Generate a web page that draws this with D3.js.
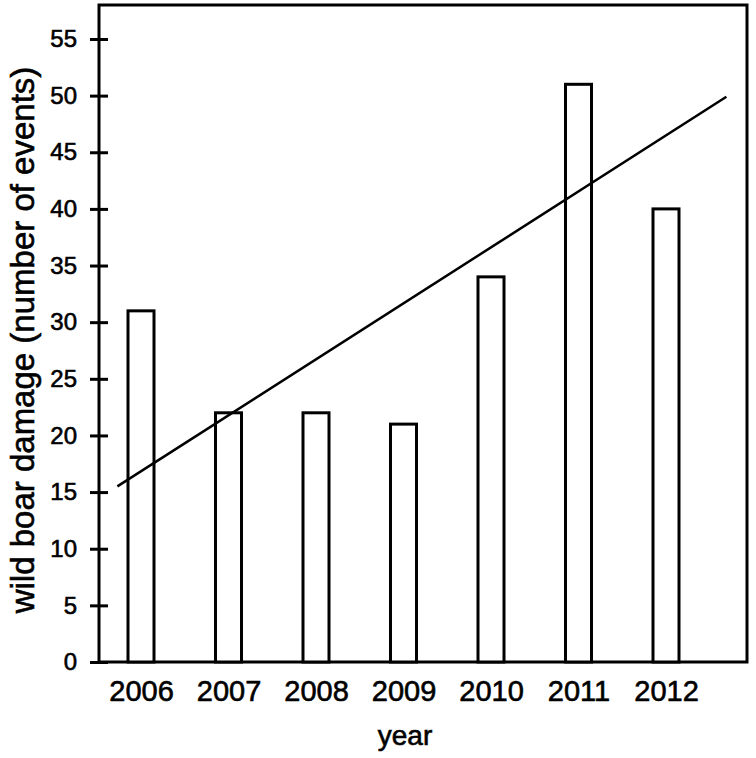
<!DOCTYPE html>
<html>
<head>
<meta charset="utf-8">
<script src="https://cdn.jsdelivr.net/npm/d3@7"></script>
<style>
body { margin:0; background:#fff; }
text { font-family: "Liberation Sans", Arial, sans-serif; fill:#000; stroke:#000; stroke-width:0.6px; }
</style>
</head>
<body>
<svg id="chart" width="756" height="758"></svg>
<script>

var years=[2006,2007,2008,2009,2010,2011,2012];
var damage=[31,22,22,21,34,51,40];
var yTicks=[0,5,10,15,20,25,30,35,40,45,50,55];
// trend line end points (year, events)
var trendYears=[2005.73,2012.69];
var trendVals=[15.5,49.9];

var svg=d3.select("#chart");

var left=99, right=747, top_=5, bottom=662;
var barW=26;

var x=d3.scaleLinear().domain([2006,2012]).range([141,666]);
var y=d3.scaleLinear().domain([0,58]).range([bottom,top_]);

// frame
svg.append("rect")
	.attr("x",left).attr("y",top_)
	.attr("width",right-left).attr("height",bottom-top_)
	.style("fill","none").style("stroke","#000").style("stroke-width",3);

// bars
svg.selectAll("rect.bar")
	.data(damage)
	.enter()
	.append("rect")
	.attr("class","bar")
	.attr("x",function(d,i) { return x(years[i])-barW/2; })
	.attr("y",function(d) { return y(d); })
	.attr("width",barW)
	.attr("height",function(d) { return bottom-y(d); })
	.style("fill","#fff")
	.style("stroke","#000")
	.style("stroke-width",3);

// trend line
var line=d3.line()
	.x(function(d,i) { return x(trendYears[i]); })
	.y(function(d) { return y(d); });
svg.append("path")
	.datum(trendVals)
	.attr("d",line)
	.style("fill","none").style("stroke","#000").style("stroke-width",2.5);

// y axis ticks, crossing the frame
var yAxis=d3.axisLeft(y).tickValues(yTicks).tickSize(9).tickPadding(14);
var gy=svg.append("g").attr("transform","translate("+left+",0)").call(yAxis);
gy.select(".domain").remove();
gy.selectAll(".tick line").attr("x2",-9).attr("x1",9).style("stroke-width",3);
gy.selectAll(".tick text")
	.attr("x",-22)
	.style("font-family","'Liberation Sans', Arial, sans-serif")
	.style("font-size","24px");

// x labels
var xAxis=d3.axisBottom(x).tickValues(years).tickFormat(d3.format("d")).tickSize(0).tickPadding(18);
var gx=svg.append("g").attr("transform","translate(0,"+bottom+")").call(xAxis);
gx.select(".domain").remove();
gx.selectAll(".tick text")
	.style("font-family","'Liberation Sans', Arial, sans-serif")
	.style("font-size","29px");

// axis titles
svg.append("text")
	.attr("x",405).attr("y",745)
	.attr("text-anchor","middle")
	.style("font-size","28px")
	.text("year");

svg.append("text")
	.attr("transform","translate(34,340) rotate(-90)")
	.attr("text-anchor","middle")
	.style("font-size","33px")
	.text("wild boar damage (number of events)");

</script>
</body>
</html>
